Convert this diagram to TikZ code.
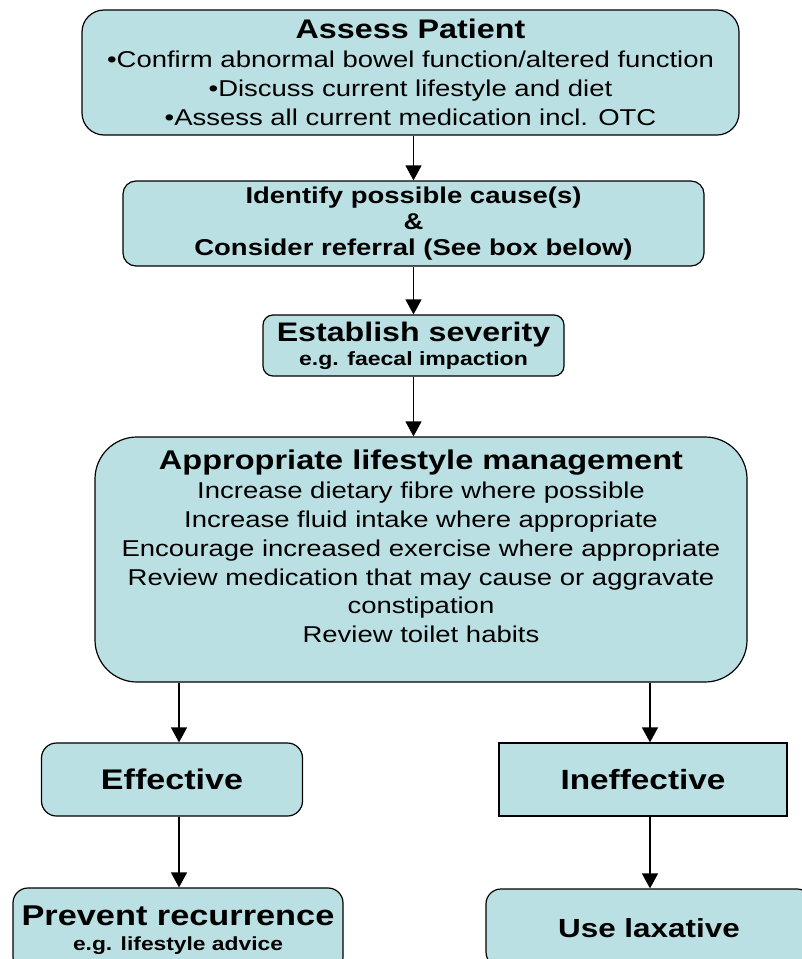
\documentclass[tikz,border=0pt]{standalone}
\usepackage{fontspec}
\setmainfont{Liberation Sans}[FakeStretch=1.2]
\usetikzlibrary{arrows.meta}
\definecolor{boxfill}{HTML}{BBE0E3}
\tikzset{
  box/.style={draw=black, line width=1.2pt, fill=boxfill, align=center, inner sep=0pt},
  arr/.style={line width=1.4pt, -{Triangle[width=16pt,length=15pt]}}
}
\begin{document}
\begin{tikzpicture}[x=1pt, y=-1pt]
            % page frame
            \useasboundingbox (0,0) rectangle (802,959);
            \clip (0,0) rectangle (802,959);
            % columns of the two branches
            \coordinate (leftcol) at (179,0);
            \coordinate (rightcol) at (650,0);
            % main column
            \node[box, rounded corners=22pt, minimum width=657pt, minimum height=125pt,
                  font=\fontsize{22.9}{29}\selectfont] (assess) at (410.5,72.5)
                {\textbf{\fontsize{26.9}{29}\selectfont Assess Patient}\\
                 •Confirm abnormal bowel function/altered function\\
                 •Discuss current lifestyle and diet\\
                 •Assess all current medication incl. OTC};
            \node[box, rounded corners=13pt, minimum width=581pt, minimum height=85pt,
                  font=\fontsize{22.9}{26}\selectfont\bfseries] (identify) at (413.5,223.5)
                {Identify possible cause(s)\\ \&\\ Consider referral (See box below)};
            \node[box, rounded corners=10pt, minimum width=301pt, minimum height=61pt,
                  font=\fontsize{19.2}{24}\selectfont\bfseries] (establish) at (413.5,345.5)
                {{\fontsize{26.8}{24}\selectfont Establish severity}\\ e.g. faecal impaction};
            \node[box, rounded corners=42pt, minimum width=652pt, minimum height=245pt,
                  text depth=26pt, font=\fontsize{22.9}{28.8}\selectfont] (appropriate) at (421,559.5)
                {\textbf{\fontsize{27.1}{28.8}\selectfont Appropriate lifestyle management}\\
                 Increase dietary fibre where possible\\
                 Increase fluid intake where appropriate\\
                 Encourage increased exercise where appropriate\\
                 Review medication that may cause or aggravate\\
                 constipation\\
                 Review toilet habits};
            % outcome branches
            \node[box, rounded corners=15pt, minimum width=261pt, minimum height=73pt,
                  font=\fontsize{28.4}{30}\selectfont\bfseries] (effective) at (172,779.5) {Effective};
            \node[box, minimum width=288pt, minimum height=73pt,
                  font=\fontsize{27.8}{30}\selectfont\bfseries] (ineffective) at (643,779.5) {Ineffective};
            \node[box, rounded corners=15pt, minimum width=330pt, minimum height=84pt,
                  font=\fontsize{19}{25}\selectfont\bfseries] (prevent) at (178,930)
                {{\fontsize{28.6}{25}\selectfont Prevent recurrence}\\ e.g. lifestyle advice};
            \node[box, rounded corners=15pt, minimum width=326pt, minimum height=78pt,
                  font=\fontsize{26.2}{30}\selectfont\bfseries] (laxative) at (649,928) {Use laxative};
            % connectors
            \draw[arr] (assess.south -| identify.north) -- (identify.north);
            \draw[arr] (identify.south) -- (establish.north);
            \draw[arr] (establish.south) -- (establish.south |- appropriate.north);
            \draw[arr] (appropriate.south -| leftcol) -- (effective.north -| leftcol);
            \draw[arr] (appropriate.south -| rightcol) -- (ineffective.north -| rightcol);
            \draw[arr] (effective.south -| leftcol) -- (prevent.north -| leftcol);
            \draw[arr] (ineffective.south -| rightcol) -- (laxative.north -| rightcol);
\end{tikzpicture}
\end{document}
